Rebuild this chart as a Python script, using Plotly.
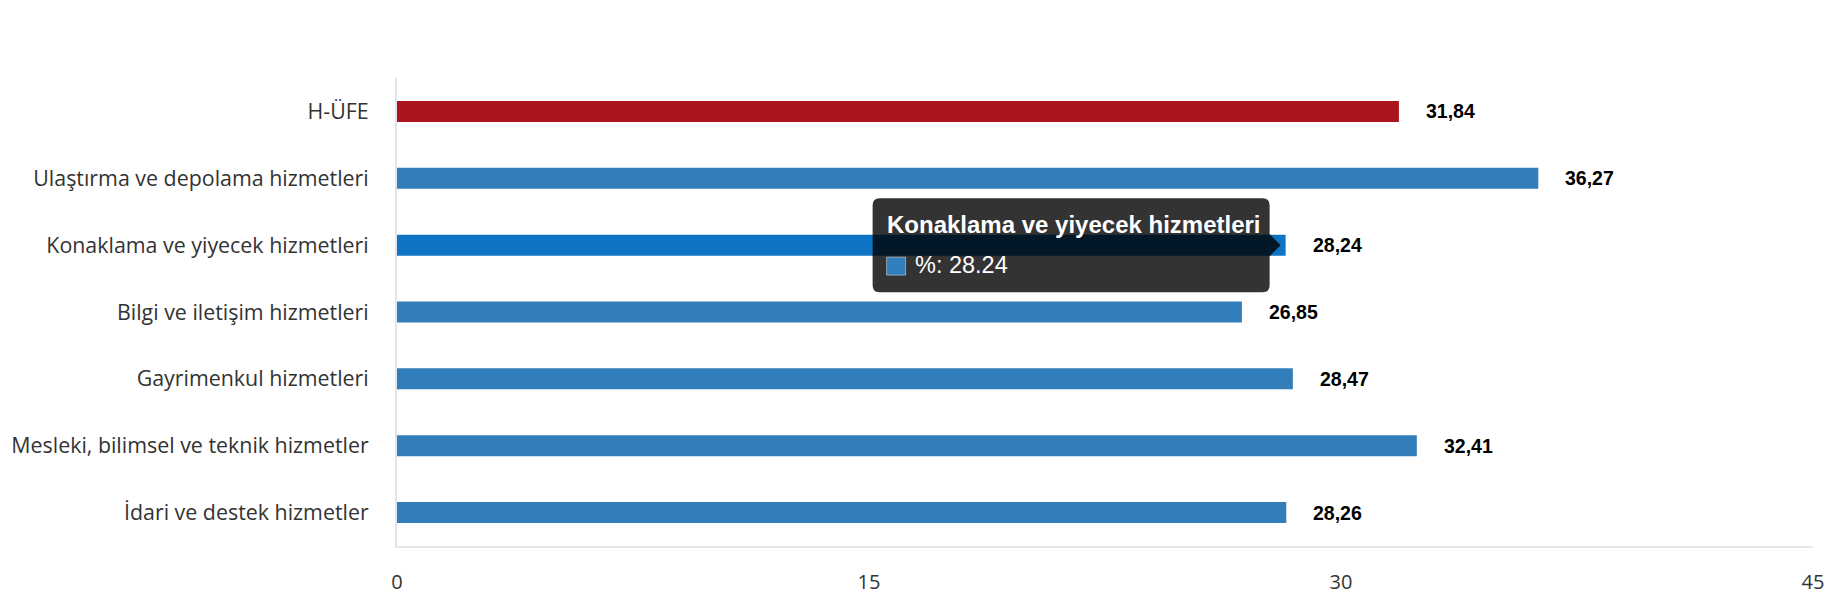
import plotly.graph_objects as go

categories = [
    "H-ÜFE",
    "Ulaştırma ve depolama hizmetleri",
    "Konaklama ve yiyecek hizmetleri",
    "Bilgi ve iletişim hizmetleri",
    "Gayrimenkul hizmetleri",
    "Mesleki, bilimsel ve teknik hizmetler",
    "İdari ve destek hizmetler",
]
values = [31.84, 36.27, 28.24, 26.85, 28.47, 32.41, 28.26]
x_ticks = [0, 15, 30, 45]
hover_index = 2

RED = "#ab151d"
BLUE = "#317ebb"
HOVER_BLUE = "#0e74c3"

colors = []
for i, c in enumerate(categories):
    if i == 0:
        colors.append(RED)
    elif i == hover_index:
        colors.append(HOVER_BLUE)
    else:
        colors.append(BLUE)

fig = go.Figure()
fig.add_trace(go.Bar(
    y=categories, x=values, orientation="h",
    marker=dict(color=colors, line=dict(width=0)),
    width=0.314, name="%", hoverinfo="skip",
))

annotations = []
for c, v in zip(categories, values):
    annotations.append(dict(
        x=v, y=c, xref="x", yref="y", showarrow=False,
        xanchor="left", yanchor="middle", xshift=25,
        text=f"<b>{v:.2f}</b>".replace(".", ","),
        font=dict(family="Liberation Sans, Arial", size=19.5, color="#000000"),
    ))

# tooltip (static rendering of the hover label)
hc = categories[hover_index]
hv = values[hover_index]
r = 7
L, R, T, B = -413, -16, 47, -47
TIP = -5
tip_path = (
    f"M {L + r},{T} L {R - r},{T} Q {R},{T} {R},{T - r} "
    f"L {R},11 L {TIP},0 L {R},-11 "
    f"L {R},{B + r} Q {R},{B} {R - r},{B} "
    f"L {L + r},{B} Q {L},{B} {L},{B + r} "
    f"L {L},{T - r} Q {L},{T} {L + r},{T} Z"
)
shapes = [
    dict(type="path", xref="x", yref="y", xsizemode="pixel", ysizemode="pixel",
         xanchor=hv, yanchor=hc, path=tip_path,
         fillcolor="rgba(0,0,0,0.8)", line=dict(width=0), layer="above"),
    dict(type="rect", xref="x", yref="y", xsizemode="pixel", ysizemode="pixel",
         xanchor=hv, yanchor=hc, x0=-399, x1=-380, y0=-12, y1=-30,
         fillcolor=BLUE, line=dict(color="rgba(255,255,255,0.45)", width=1), layer="above"),
]
annotations.append(dict(
    x=hv, y=hc, xref="x", yref="y", showarrow=False,
    xanchor="left", yanchor="middle", xshift=-401, yshift=21,
    text=f"<b>{hc}</b>",
    font=dict(family="Liberation Sans, Arial", size=24, color="#ffffff"),
))
annotations.append(dict(
    x=hv, y=hc, xref="x", yref="y", showarrow=False,
    xanchor="left", yanchor="middle", xshift=-373, yshift=-20,
    text=f"%: {hv}",
    font=dict(family="Liberation Sans, Arial", size=23.5, color="#ffffff"),
))

fig.update_layout(
    width=1830, height=600,
    margin=dict(l=397, r=17, t=78, b=54, autoexpand=False),
    plot_bgcolor="#ffffff", paper_bgcolor="#ffffff",
    showlegend=False,
    annotations=annotations,
    shapes=shapes,
    xaxis=dict(
        range=[0, 45], tickvals=x_ticks, ticktext=[str(t) for t in x_ticks],
        showgrid=False, zeroline=False, showline=True,
        linecolor="#e6e6e6", linewidth=2, ticks="",
        ticklabelstandoff=17, automargin=False,
        tickfont=dict(family="Open Sans", size=20, color="#333333"),
        fixedrange=True,
    ),
    yaxis=dict(
        categoryorder="array", categoryarray=categories, autorange="reversed",
        showgrid=False, zeroline=False, showline=True,
        linecolor="#e1e5ec", linewidth=2, ticks="",
        ticklabelstandoff=22, automargin=False,
        tickfont=dict(family="Open Sans", size=21.4, color="#333333"),
        fixedrange=True,
    ),
)

fig.write_html(
    "out.html",
    config=dict(displayModeBar=False),
    post_script="document.body.style.margin='0';document.body.style.overflow='hidden';",
)
